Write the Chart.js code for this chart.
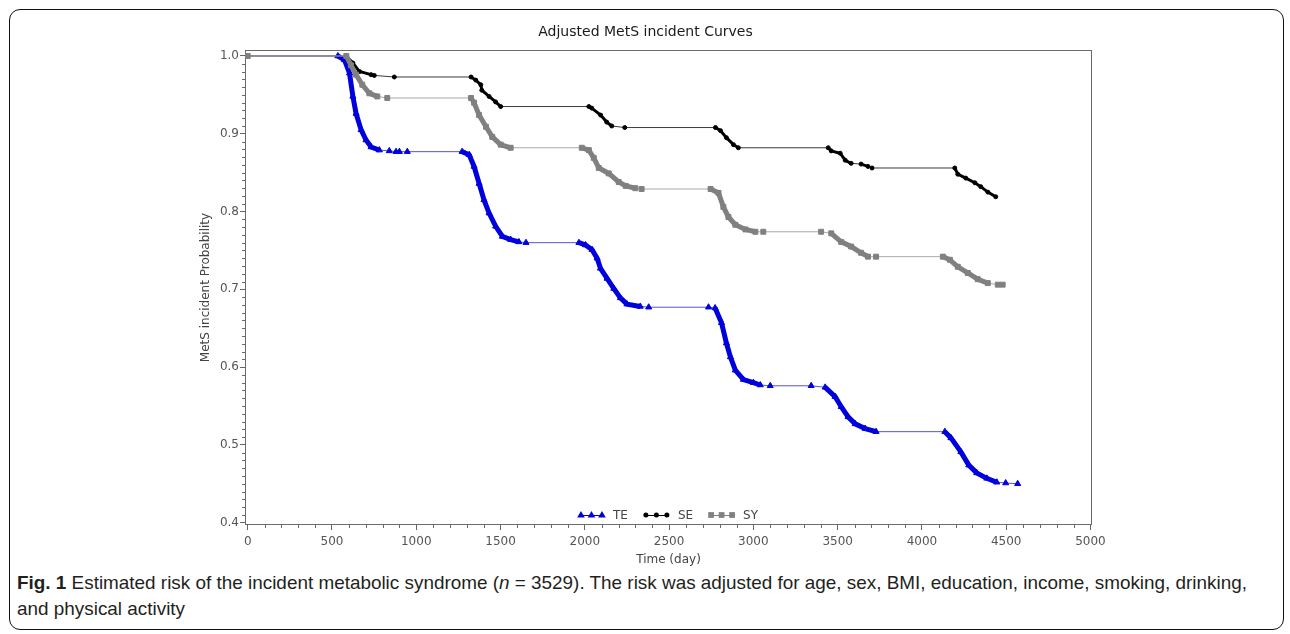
<!DOCTYPE html>
<html>
<head>
<meta charset="utf-8">
<script src="https://cdn.jsdelivr.net/npm/chart.js@4.4.0/dist/chart.umd.min.js"></script>
<style>
  html, body { margin: 0; padding: 0; background: #fff; }
  body { width: 1290px; height: 634px; position: relative; overflow: hidden; }
  #frame { position: absolute; left: 9px; top: 9px; width: 1275px; height: 621px;
           border: 1.5px solid #111; border-radius: 11px; box-sizing: border-box; }
  #cv { position: absolute; left: 10px; top: 10px; }
  .cap { position: absolute; left: 17px; white-space: nowrap; transform-origin: 0 50%;
         font-family: "Liberation Sans Narrow", "Liberation Sans", "Open Sans", sans-serif;
         font-size: 18.5px; line-height: 22px; color: #231f20; }
  #cap1 { top: 572px; }
  #cap2 { top: 598px; }
</style>
</head>
<body>
<div id="frame"></div>
<canvas id="cv" width="1273" height="560" style="width:1273px;height:560px"></canvas>
<div class="cap" id="cap1"><b>Fig. 1</b> Estimated risk of the incident metabolic syndrome (<i>n</i> = 3529). The risk was adjusted for age, sex, BMI, education, income, smoking, drinking,</div>
<div class="cap" id="cap2">and physical activity</div>
<script>
// ---------------- data ----------------
const chartTitle = 'Adjusted MetS incident Curves';
const xTitle = 'Time (day)';
const yTitle = 'MetS incident Probability';
const xTicks = [0, 500, 1000, 1500, 2000, 2500, 3000, 3500, 4000, 4500, 5000];
const yTicks = [0.4, 0.5, 0.6, 0.7, 0.8, 0.9, 1.0];
const seriesNames = ['TE', 'SE', 'SY'];

const teX = [0, 535, 574, 604, 624, 643, 673, 702, 732, 781, 840, 880, 900, 947, 1272, 1314, 1343, 1373, 1402, 1432, 1471, 1511, 1560, 1609, 1651, 1965, 2004, 2043, 2073, 2093, 2132, 2172, 2211, 2250, 2329, 2379, 2734, 2773, 2811, 2840, 2864, 2893, 2941, 3000, 3041, 3100, 3343, 3426, 3485, 3521, 3562, 3604, 3663, 3728, 4136, 4172, 4231, 4278, 4325, 4385, 4444, 4497, 4568];
const teY = [1.000, 1.000, 0.995, 0.978, 0.948, 0.926, 0.905, 0.892, 0.883, 0.879, 0.878, 0.877, 0.877, 0.877, 0.877, 0.873, 0.858, 0.836, 0.815, 0.798, 0.781, 0.768, 0.764, 0.761, 0.760, 0.760, 0.757, 0.751, 0.740, 0.727, 0.714, 0.701, 0.689, 0.681, 0.678, 0.677, 0.677, 0.676, 0.657, 0.631, 0.613, 0.596, 0.584, 0.580, 0.577, 0.576, 0.576, 0.574, 0.562, 0.549, 0.536, 0.527, 0.521, 0.517, 0.517, 0.509, 0.491, 0.474, 0.464, 0.457, 0.452, 0.451, 0.450];

const seX = [0, 584, 624, 663, 732, 751, 870, 1325, 1353, 1383, 1389, 1432, 1471, 1501, 2024, 2041, 2094, 2130, 2160, 2237, 2775, 2805, 2840, 2882, 2911, 3444, 3462, 3515, 3545, 3580, 3639, 3680, 3704, 4195, 4213, 4260, 4314, 4349, 4391, 4438];
const seY = [1.000, 1.000, 0.991, 0.980, 0.976, 0.975, 0.973, 0.973, 0.969, 0.963, 0.956, 0.948, 0.941, 0.935, 0.935, 0.933, 0.924, 0.915, 0.910, 0.908, 0.908, 0.904, 0.895, 0.886, 0.882, 0.882, 0.878, 0.875, 0.866, 0.862, 0.861, 0.858, 0.856, 0.856, 0.848, 0.843, 0.837, 0.832, 0.825, 0.819];

const syX = [0, 585, 613, 643, 680, 722, 769, 828, 1325, 1343, 1373, 1414, 1451, 1501, 1560, 1982, 2024, 2053, 2083, 2142, 2201, 2243, 2300, 2337, 2746, 2793, 2822, 2852, 2893, 2953, 3012, 3059, 3402, 3462, 3521, 3580, 3639, 3680, 3728, 4124, 4166, 4213, 4272, 4331, 4391, 4450, 4479];
const syY = [1.000, 1.000, 0.988, 0.976, 0.963, 0.952, 0.948, 0.946, 0.946, 0.940, 0.924, 0.909, 0.896, 0.886, 0.882, 0.882, 0.879, 0.869, 0.856, 0.849, 0.838, 0.833, 0.830, 0.829, 0.829, 0.824, 0.806, 0.793, 0.783, 0.777, 0.774, 0.774, 0.774, 0.772, 0.761, 0.755, 0.747, 0.742, 0.742, 0.742, 0.738, 0.729, 0.721, 0.713, 0.708, 0.706, 0.706];

// ---------------- chart ----------------
const FONT = '"DejaVu Sans", "Liberation Sans", sans-serif';
const toPts = (xs, ys) => xs.map((x, i) => ({ x: x, y: ys[i] }));

function makeSeries(label, xs, ys, st) {
  return {
    label: label,
    data: toPts(xs, ys),
    order: st.order,
    borderColor: st.thin,
    borderWidth: 1,
    pointStyle: st.shape,
    pointRadius: (c) => (st.hideFirst && c.dataIndex === 0) ? 0 : st.r,
    pointBackgroundColor: st.mark,
    pointBorderColor: st.mark,
    pointBorderWidth: 1,
    fill: false,
    tension: 0,
    legendShape: st.shape, legendMark: st.mark, legendLine: st.thin, legendR: st.r,
    segment: {
      borderWidth: (c) => Math.abs(c.p0.parsed.y - c.p1.parsed.y) > 0.0025 ? st.thick : 1,
      borderColor: (c) => Math.abs(c.p0.parsed.y - c.p1.parsed.y) > 0.0025 ? st.mark : st.thin
    }
  };
}

const framePlugin = {
  id: 'frameAndMinor',
  beforeDatasetsDraw(chart) {
    const { ctx, chartArea: a, scales } = chart;
    ctx.save();
    ctx.strokeStyle = '#6a6a6a';
    ctx.lineWidth = 1;
    ctx.strokeRect(Math.round(a.left) + 0.5, Math.round(a.top) + 0.5,
                   Math.round(a.right - a.left) - 1, Math.round(a.bottom - a.top) - 1);
    ctx.beginPath();
    for (let v = 100; v < 5000; v += 100) {
      if (v % 500 === 0) continue;
      const px = Math.round(scales.x.getPixelForValue(v)) + 0.5;
      ctx.moveTo(px, a.bottom); ctx.lineTo(px, a.bottom + 3);
    }
    for (let k = 41; k < 100; k++) {
      if (k % 10 === 0) continue;
      const py = Math.round(scales.y.getPixelForValue(k / 100)) + 0.5;
      ctx.moveTo(a.left, py); ctx.lineTo(a.left - 3, py);
    }
    ctx.stroke();
    ctx.restore();
  }
};

function drawMark(ctx, shape, x, y, r) {
  ctx.beginPath();
  if (shape === 'triangle') {
    ctx.moveTo(x, y - r);
    ctx.lineTo(x + r * 0.95, y + r * 0.6);
    ctx.lineTo(x - r * 0.95, y + r * 0.6);
    ctx.closePath();
  } else if (shape === 'rect') {
    const s = r * 0.72;
    ctx.rect(x - s, y - s, 2 * s, 2 * s);
  } else {
    ctx.arc(x, y, r, 0, Math.PI * 2);
  }
  ctx.fill();
}

const legendPlugin = {
  id: 'innerLegend',
  afterDraw(chart) {
    const { ctx, chartArea: a } = chart;
    const ds = seriesNames.map(n => chart.data.datasets.find(d => d.label === n));
    ctx.save();
    ctx.font = '12px ' + FONT;
    const sampleW = 25, gapText = 9, gapItem = 16;
    const widths = ds.map(d => sampleW + gapText + ctx.measureText(d.label).width);
    const total = widths.reduce((s, w) => s + w, 0) + gapItem * (ds.length - 1);
    let x = (a.left + a.right) / 2 - total / 2;
    const y = Math.round(a.bottom - 10);
    ds.forEach((d, i) => {
      ctx.strokeStyle = d.legendMark;
      ctx.lineWidth = 1;
      ctx.beginPath(); ctx.moveTo(x, y + 0.5); ctx.lineTo(x + sampleW, y + 0.5); ctx.stroke();
      ctx.fillStyle = d.legendMark;
      [x + 2, x + sampleW / 2, x + sampleW - 2].forEach(mx => drawMark(ctx, d.legendShape, mx, y, d.legendR + 0.5));
      ctx.fillStyle = '#444';
      ctx.textBaseline = 'middle';
      ctx.textAlign = 'left';
      ctx.fillText(d.label, x + sampleW + gapText, y + 1);
      x += widths[i] + gapItem;
    });
    ctx.restore();
  }
};

new Chart(document.getElementById('cv'), {
  type: 'line',
  data: {
    datasets: [
      makeSeries(seriesNames[0], teX, teY, { order: 3, thin: '#5555cc', mark: '#0000dd', shape: 'triangle', r: 3.5, thick: 5, hideFirst: true }),
      makeSeries(seriesNames[1], seX, seY, { order: 2, thin: '#3a3a3a', mark: '#000000', shape: 'circle', r: 2, thick: 3, hideFirst: true }),
      makeSeries(seriesNames[2], syX, syY, { order: 1, thin: '#aaaaaa', mark: '#808080', shape: 'rect', r: 3.5, thick: 5, hideFirst: false })
    ]
  },
  options: {
    responsive: false,
    animation: false,
    layout: { padding: { left: 189, right: 191, top: 0, bottom: 3 } },
    plugins: {
      legend: { display: false },
      tooltip: { enabled: false },
      title: {
        display: true, text: chartTitle, color: '#1a1a1a',
        font: { family: FONT, size: 14, weight: 'normal' },
        padding: { top: 13.6, bottom: 9.6 }
      }
    },
    scales: {
      x: {
        type: 'linear', min: -16, max: 5009,
        afterBuildTicks: (s) => { s.ticks = xTicks.map(v => ({ value: v })); },
        afterFit: (s) => { s.height = 42; s.paddingLeft = 0; s.paddingRight = 0; },
        grid: { display: true, drawOnChartArea: false, drawTicks: true, tickLength: 5, color: '#666', tickColor: '#666' },
        border: { display: false },
        ticks: { font: { family: FONT, size: 12 }, color: '#555', padding: 5, maxRotation: 0, autoSkip: false, callback: (v) => String(v) },
        title: { display: true, text: xTitle, color: '#444', font: { family: FONT, size: 12 }, padding: 0 }
      },
      y: {
        type: 'linear', min: 0.397, max: 1.0077,
        afterBuildTicks: (s) => { s.ticks = yTicks.map(v => ({ value: v })); },
        afterFit: (s) => { s.width = 46; s.paddingTop = 0; s.paddingBottom = 0; },
        grid: { display: true, drawOnChartArea: false, drawTicks: true, tickLength: 5, color: '#666', tickColor: '#666' },
        border: { display: false },
        ticks: { font: { family: FONT, size: 12 }, color: '#555', padding: 1, autoSkip: false, callback: (v) => Number(v).toFixed(1) },
        title: { display: true, text: yTitle, color: '#444', font: { family: FONT, size: 12 }, padding: 0 }
      }
    }
  },
  plugins: [framePlugin, legendPlugin]
});

// fit caption to the reference width
(function () {
  const c1 = document.getElementById('cap1');
  const c2 = document.getElementById('cap2');
  const w = c1.getBoundingClientRect().width;
  const s = 1230 / w;
  c1.style.transform = 'scaleX(' + s + ')';
  c2.style.transform = 'scaleX(' + s + ')';
})();
</script>
</body>
</html>
